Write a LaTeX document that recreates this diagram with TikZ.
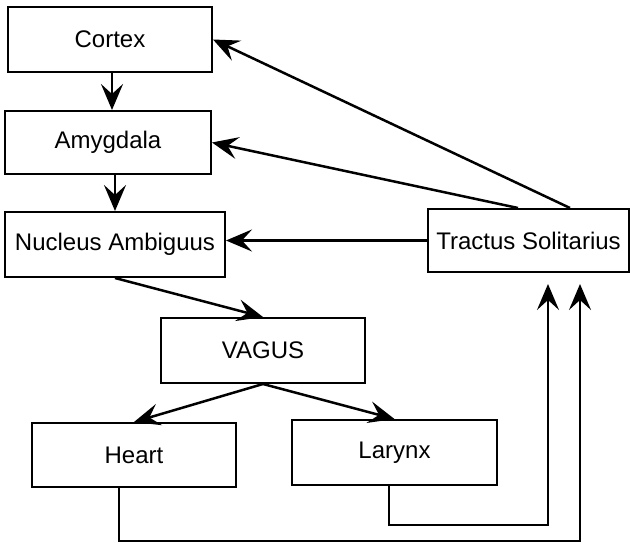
\documentclass[tikz,border=0pt]{standalone}
\usepackage{fontspec}
\setmainfont{Liberation Sans}
\usetikzlibrary{arrows.meta}
\begin{document}
\begin{tikzpicture}[x=1pt,y=-1pt,
  box/.style={draw,line width=2pt,inner sep=0pt,font=\fontsize{24}{28}\selectfont},
  arr/.style={line width=2.5pt,-{Stealth[length=26pt,width=22pt,inset=10pt]}},
  loop/.style={line width=2pt,-{Stealth[length=26pt,width=22pt,inset=10pt]}}]
\useasboundingbox (0,0) rectangle (630,543);
\node[box,minimum width=204pt,minimum height=65pt] (cortex) at (110,39.5) {Cortex};
\node[box,minimum width=206pt,minimum height=63pt] (amyg) at (108,142.5) {Amygdala};
\node[box,minimum width=220pt,minimum height=65pt] (nuc) at (115,244.5) {Nucleus Ambiguus};
\node[box,minimum width=201pt,minimum height=63pt] (trac) at (528.5,240.5) {Tractus Solitarius};
\node[box,minimum width=204pt,minimum height=65pt] (vagus) at (263,350.5) {VAGUS};
\node[box,minimum width=204pt,minimum height=64pt] (heart) at (134,455) {Heart};
\node[box,minimum width=205pt,minimum height=65pt] (larynx) at (394.5,452.5) {Larynx};
\coordinate (tipA) at (548,284);
\coordinate (tipB) at (580,284);
\coordinate (cornA) at (548,525);
\coordinate (cornB) at (580,541);
\draw[arr] ([xshift=2pt]cortex.south) -- ([xshift=2pt]cortex.south |- amyg.north);
\draw[arr] (amyg.south -| nuc.north) -- (nuc.north);
\draw[arr] (nuc.south) -- (vagus.north);
\draw[arr] (vagus.south) -- (heart.north);
\draw[arr] (vagus.south) -- (larynx.north);
\draw[arr] ([xshift=41.5pt]trac.north) -- (cortex.east);
\draw[arr] ([xshift=-10.5pt]trac.north) -- (amyg.east);
\draw[arr] (trac.west) -- (trac.west -| nuc.east);
\draw[loop] ([xshift=-5.5pt]larynx.south) |- (cornA) -- (tipA);
\draw[loop] ([xshift=-15.5pt]heart.south) |- (cornB) -- (tipB);
\end{tikzpicture}
\end{document}
